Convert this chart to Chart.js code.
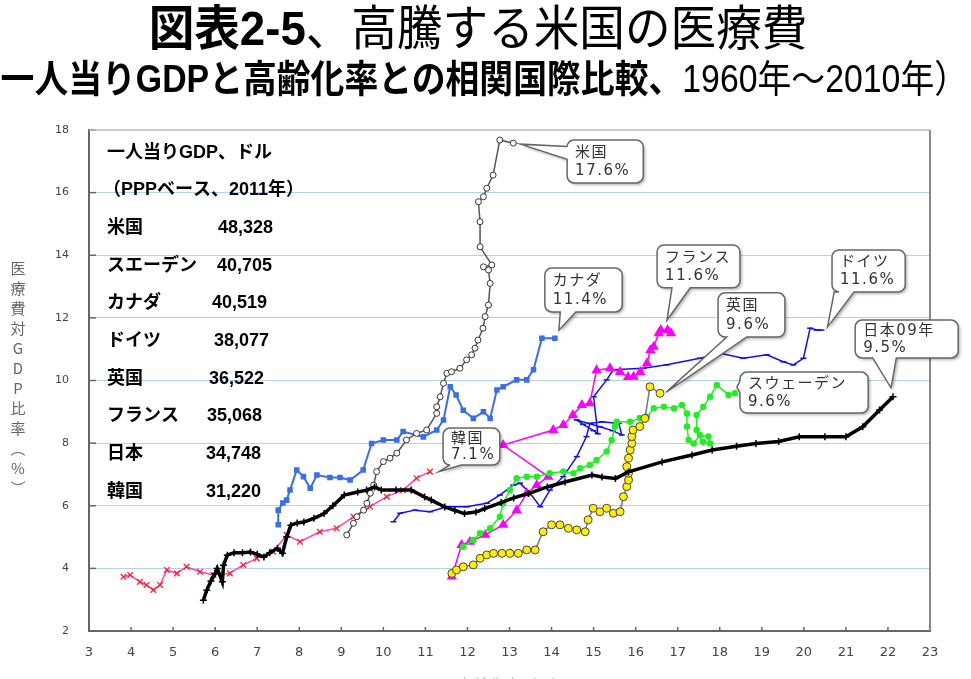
<!DOCTYPE html>
<html>
<head>
<meta charset="utf-8">
<script src="https://cdn.jsdelivr.net/npm/chart.js@4.4.1/dist/chart.umd.min.js"></script>
<style>
  html, body { margin: 0; padding: 0; background: #fff; }
  #wrap { position: relative; width: 971px; height: 679px; overflow: hidden; }
  #chart { position: absolute; left: 0; top: 0; }
  .t { position: absolute; white-space: nowrap; color: #000; font-family: "Liberation Sans", "Noto Sans CJK JP", sans-serif; z-index: 2; }
  #t1 { left: 478px; top: 0px; font-size: 48px; line-height: 58px; transform: translateX(-50%) scaleX(.95); }
  #t2 { right: 3px; top: 56px; font-size: 38px; line-height: 46px; transform-origin: right center; transform: scaleX(.89); }
  b { font-weight: 700; }
</style>
</head>
<body>
<div id="wrap">
  <div class="t" id="t1"><b>図表2-5</b>、高騰する米国の医療費</div>
  <div class="t" id="t2"><b>（一人当りGDPと高齢化率との相関国際比較、</b>1960年～2010年）</div>
  <canvas id="chart" width="971" height="679"></canvas>
</div>
<script>
// x = 高齢化率(%), y = 医療費対GDP比率(%), 1960-2010 yearly
const jpAging = [5.72, 5.8, 5.9, 6.0, 6.05, 6.17, 6.2, 6.29, 6.45, 6.65, 6.84, 7.0, 7.16, 7.3, 7.48, 7.6, 7.7, 7.8, 7.95, 8.11, 8.35, 8.59, 8.8, 9.07, 9.39, 9.6, 9.79, 9.95, 10.3, 10.66, 10.98, 11.14, 11.46, 11.7, 11.93, 12.2, 12.41, 12.8, 13.1, 13.45, 13.9, 14.32, 14.96, 15.2, 15.52, 15.83, 16.63, 17.34, 17.82, 18.4, 18.86, 19.4, 19.89, 20.5, 21.0, 21.4, 21.8, 22.12];
const jpSpend = [2.98, 3.3, 3.6, 3.84, 4.0, 3.57, 4.1, 4.42, 4.5, 4.5, 4.52, 4.45, 4.36, 4.5, 4.64, 4.48, 5.0, 5.38, 5.45, 5.48, 5.6, 5.75, 6.0, 6.34, 6.44, 6.5, 6.6, 6.5, 6.5, 6.5, 6.28, 6.18, 5.96, 5.85, 5.75, 5.8, 5.91, 6.1, 6.25, 6.39, 6.6, 6.76, 6.98, 6.92, 6.87, 7.08, 7.4, 7.62, 7.78, 7.9, 7.99, 8.05, 8.2, 8.2, 8.2, 8.52, 9.06, 9.48];

const usAging = [9.13, 9.29, 9.37, 9.53, 9.61, 9.69, 9.77, 9.84, 10.0, 10.16, 10.32, 10.55, 10.79, 11.03, 11.27, 11.27, 11.35, 11.43, 11.51, 11.62, 11.82, 11.98, 12.1, 12.18, 12.25, 12.37, 12.42, 12.5, 12.54, 12.5, 12.38, 12.58, 12.3, 12.3, 12.26, 12.38, 12.46, 12.61, 12.77, 13.09];
const usSpend = [5.07, 5.44, 5.65, 5.86, 6.08, 6.4, 6.66, 7.09, 7.41, 7.52, 7.68, 8.1, 8.31, 8.42, 8.95, 9.16, 9.48, 9.91, 10.23, 10.28, 10.39, 10.66, 10.82, 11.03, 11.29, 11.67, 12.04, 12.41, 13.1, 13.53, 13.63, 13.69, 14.27, 15.07, 15.71, 15.87, 16.14, 16.56, 17.68, 17.58];

const caAging = [7.5, 7.5, 7.61, 7.7, 7.78, 7.94, 8.1, 8.26, 8.42, 8.73, 8.97, 9.21, 9.52, 9.72, 10.0, 10.32, 10.47, 10.95, 11.27, 11.43, 11.59, 11.73, 11.9, 12.14, 12.38, 12.54, 12.7, 12.85, 13.17, 13.41, 13.57, 13.77, 14.08];
const caSpend = [5.39, 5.86, 6.09, 6.18, 6.5, 7.14, 6.93, 6.56, 6.98, 6.9, 6.9, 6.82, 7.14, 7.99, 8.1, 8.1, 8.37, 8.2, 8.42, 8.74, 9.8, 9.54, 9.05, 8.79, 9.0, 8.79, 9.7, 9.8, 10.02, 10.02, 10.34, 11.35, 11.35];

const krAging = [3.82, 3.98, 4.21, 4.37, 4.53, 4.69, 4.85, 5.09, 5.32, 5.64, 5.96, 6.35, 6.67, 6.99, 7.38, 7.7, 8.02, 8.49, 8.89, 9.29, 9.68, 10.08, 10.47, 10.79, 11.11];
const krSpend = [3.73, 3.79, 3.57, 3.47, 3.31, 3.47, 3.95, 3.84, 4.05, 3.89, 3.79, 3.84, 4.11, 4.32, 4.53, 5.07, 4.85, 5.17, 5.28, 5.65, 5.97, 6.29, 6.5, 6.88, 7.09];

const frAging = [11.63, 11.86, 12.06, 12.42, 12.85, 13.17, 13.41, 13.65, 13.92, 12.85, 14.04, 14.28, 14.51, 14.72, 14.91, 15.07, 15.39, 15.63, 15.82, 15.95, 16.11, 16.27, 16.35, 16.43, 16.55, 16.6, 16.76, 16.84];
const frSpend = [3.74, 4.75, 4.85, 5.07, 5.39, 5.86, 6.4, 6.66, 6.93, 7.94, 8.42, 8.58, 8.9, 9.22, 9.27, 10.33, 10.39, 10.27, 10.11, 10.12, 10.27, 10.55, 10.97, 11.08, 11.51, 11.61, 11.61, 11.51];

const deAging = [10.24, 10.4, 10.75, 11.11, 11.51, 11.98, 12.46, 12.77, 13.09, 13.25, 13.49, 13.73, 13.96, 14.28, 14.6, 14.83, 14.91, 15.2, 15.6, 15.67, 15.45, 15.15, 14.6, 14.75, 15.0, 15.1, 15.0, 15.31, 15.47, 16.18, 16.74, 17.53, 18.01, 18.56, 19.12, 19.51, 19.75, 19.99, 20.15, 20.31, 20.42];
const deSpend = [5.49, 5.76, 5.86, 5.81, 5.97, 5.97, 6.08, 6.34, 6.66, 6.72, 6.4, 5.97, 6.5, 6.93, 7.57, 8.21, 8.63, 8.68, 8.63, 8.26, 8.4, 8.52, 8.74, 8.6, 8.4, 8.3, 9.48, 10.02, 10.34, 10.39, 10.5, 10.71, 10.87, 10.71, 10.82, 10.6, 10.5, 10.71, 11.67, 11.61, 11.61];

const ukAging = [11.63, 11.74, 11.9, 12.14, 12.3, 12.46, 12.62, 12.82, 13.01, 13.21, 13.41, 13.61, 13.8, 14.0, 14.2, 14.4, 14.6, 14.8, 14.87, 14.99, 15.15, 15.31, 15.47, 15.63, 15.71, 15.79, 15.83, 15.83, 15.79, 15.83, 15.87, 15.91, 15.91, 15.94, 16.1, 16.22, 16.34, 16.58];
const ukSpend = [3.84, 3.95, 4.05, 4.11, 4.32, 4.43, 4.48, 4.48, 4.48, 4.48, 4.59, 4.59, 5.17, 5.39, 5.39, 5.28, 5.23, 5.17, 5.55, 5.92, 5.81, 5.92, 5.76, 5.81, 6.29, 6.61, 6.82, 7.04, 7.25, 7.52, 7.78, 7.99, 8.21, 8.42, 8.53, 8.79, 9.8, 9.59];

const seAging = [11.9, 12.14, 12.3, 12.54, 12.77, 12.85, 13.01, 13.17, 13.41, 13.65, 13.96, 14.28, 14.52, 14.68, 14.91, 15.07, 15.31, 15.43, 15.51, 15.55, 15.87, 16.1, 16.27, 16.43, 16.67, 16.91, 17.1, 17.22, 17.22, 17.26, 17.38, 17.53, 17.73, 17.77, 17.6, 17.45, 17.45, 17.61, 17.77, 17.93, 18.21, 18.36];
const seSpend = [4.69, 4.91, 5.12, 5.28, 5.65, 6.08, 6.5, 6.88, 6.93, 6.93, 7.04, 7.09, 7.04, 7.2, 7.3, 7.46, 7.73, 8.1, 8.53, 8.68, 8.68, 8.8, 8.84, 9.11, 9.16, 9.11, 9.22, 8.95, 8.53, 8.1, 7.99, 8.26, 8.21, 7.99, 8.04, 8.42, 8.9, 9.16, 9.48, 9.86, 9.54, 9.59];

const xTicks = [3, 4, 5, 6, 7, 8, 9, 10, 11, 12, 13, 14, 15, 16, 17, 18, 19, 20, 21, 22, 23];
const yTicks = [2, 4, 6, 8, 10, 12, 14, 16, 18];

// 一人当りGDP (PPP, 2011)
const gdpHeader = ['一人当りGDP、ドル', '（PPPベース、2011年）'];
const gdpCountries = ['米国', 'スエーデン', 'カナダ', 'ドイツ', '英国', 'フランス', '日本', '韓国'];
const gdpValues = ['48,328', '40,705', '40,519', '38,077', '36,522', '35,068', '34,748', '31,220'];
const gdpNumX = [218, 217, 212, 214, 209, 207, 206, 206];

const yTitle = ['医', '療', '費', '対', 'G', 'D', 'P', '比', '率', '︵', '%', '︶'];

function pts(xs, ys) {
  return xs.map((x, i) => ({ x: x, y: ys[i] }));
}

const series = {
  jp: pts(jpAging, jpSpend),
  us: pts(usAging, usSpend),
  ca: pts(caAging, caSpend),
  kr: pts(krAging, krSpend),
  fr: pts(frAging, frSpend),
  de: pts(deAging, deSpend),
  uk: pts(ukAging, ukSpend),
  se: pts(seAging, seSpend)
};

// speech bubbles: box in axis units [x1, yTop, x2, yBottom], tip = px offset from series' last point
const callouts = [
  { s: 'us', lines: ['米国', '17.6%'], box: [14.37, 17.68, 16.18, 16.31], side: 'left', base: [0.15, 0.45], tip: [7, 1] },
  { s: 'ca', lines: ['カナダ', '11.4%'], box: [13.84, 13.59, 15.68, 12.19], side: 'bottom', base: [0.2, 0.4], tip: [4, -8] },
  { s: 'fr', lines: ['フランス', '11.6%'], box: [16.51, 14.33, 18.48, 12.96], side: 'bottom', base: [0.18, 0.4], tip: [-4, -13] },
  { s: 'de', lines: ['ドイツ', '11.6%'], box: [20.67, 14.17, 22.41, 12.83], side: 'bottom', base: [0.03, 0.3], tip: [6, -3] },
  { s: 'uk', lines: ['英国', '9.6%'], box: [17.96, 12.8, 19.55, 11.39], side: 'bottom', base: [0.13, 0.43], tip: [6, -1] },
  { s: 'jp', lines: ['日本09年', '9.5%'], box: [21.22, 11.93, 23.67, 10.72], side: 'bottom', base: [0.17, 0.4], tip: [-2, -9] },
  { s: 'se', lines: ['スウェーデン', '9.6%'], box: [18.48, 10.27, 21.53, 8.96], side: 'left', base: [0.22, 0.5], tip: [2, -6] },
  { s: 'kr', lines: ['韓国', '7.1%'], box: [11.42, 8.48, 12.77, 7.3], side: 'bottom', base: [0.12, 0.32], tip: [9, 0] }
];

function drawCallout(ctx, chart, c) {
  const xs = chart.scales.x, ys = chart.scales.y;
  const l = xs.getPixelForValue(c.box[0]), t = ys.getPixelForValue(c.box[1]);
  const r = xs.getPixelForValue(c.box[2]), b = ys.getPixelForValue(c.box[3]);
  const last = series[c.s][series[c.s].length - 1];
  const tx = xs.getPixelForValue(last.x) + c.tip[0];
  const ty = ys.getPixelForValue(last.y) + c.tip[1];
  const rad = 7;
  ctx.save();
  ctx.beginPath();
  ctx.moveTo(l + rad, t);
  ctx.lineTo(r - rad, t);
  ctx.arcTo(r, t, r, t + rad, rad);
  ctx.lineTo(r, b - rad);
  ctx.arcTo(r, b, r - rad, b, rad);
  if (c.side === 'bottom') {
    const p1 = l + (r - l) * c.base[0], p2 = l + (r - l) * c.base[1];
    ctx.lineTo(p2, b);
    ctx.lineTo(tx, ty);
    ctx.lineTo(p1, b);
  }
  ctx.lineTo(l + rad, b);
  ctx.arcTo(l, b, l, b - rad, rad);
  if (c.side === 'left') {
    const p1 = t + (b - t) * c.base[0], p2 = t + (b - t) * c.base[1];
    ctx.lineTo(l, p2);
    ctx.lineTo(tx, ty);
    ctx.lineTo(l, p1);
  }
  ctx.lineTo(l, t + rad);
  ctx.arcTo(l, t, l + rad, t, rad);
  ctx.closePath();
  ctx.shadowColor = 'rgba(0,0,0,0.3)';
  ctx.shadowBlur = 3;
  ctx.shadowOffsetX = 2;
  ctx.shadowOffsetY = 2;
  ctx.fillStyle = '#fff';
  ctx.fill();
  ctx.shadowColor = 'transparent';
  ctx.strokeStyle = '#666';
  ctx.lineWidth = 1.5;
  ctx.stroke();
  ctx.fillStyle = '#333';
  ctx.font = '15px "DejaVu Sans", "Noto Sans CJK JP", sans-serif';
  ctx.letterSpacing = '1.5px';
  ctx.textBaseline = 'middle';
  ctx.textAlign = 'left';
  const h = b - t;
  ctx.fillText(c.lines[0], l + 8, t + h * 0.3);
  ctx.fillText(c.lines[1], l + 8, t + h * 0.73);
  ctx.restore();
}

const overlay = {
  id: 'overlay',
  beforeDatasetsDraw(chart) {
    const ctx = chart.ctx, a = chart.chartArea;
    const xs = chart.scales.x, ys = chart.scales.y;
    ctx.save();
    ctx.strokeStyle = '#666';
    ctx.lineWidth = 1.5;
    yTicks.forEach(v => {
      const y = ys.getPixelForValue(v);
      ctx.beginPath(); ctx.moveTo(a.left, y); ctx.lineTo(a.left + 7, y); ctx.stroke();
    });
    xTicks.forEach(v => {
      const x = xs.getPixelForValue(v);
      ctx.beginPath(); ctx.moveTo(x, a.bottom); ctx.lineTo(x, a.bottom - 4); ctx.stroke();
    });
    // top and right frame
    ctx.strokeStyle = '#bbb';
    ctx.lineWidth = 1.5;
    ctx.beginPath(); ctx.moveTo(a.left, a.top); ctx.lineTo(a.right, a.top); ctx.stroke();
    ctx.strokeStyle = '#888';
    ctx.lineWidth = 2;
    ctx.beginPath(); ctx.moveTo(a.right, a.top); ctx.lineTo(a.right, a.bottom); ctx.stroke();
    ctx.restore();
  },
  afterDatasetsDraw(chart) {
    const ctx = chart.ctx;
    callouts.forEach(c => drawCallout(ctx, chart, c));
  },
  afterDraw(chart) {
    const ctx = chart.ctx;
    ctx.save();
    // GDP table
    ctx.fillStyle = '#000';
    ctx.textBaseline = 'middle';
    ctx.textAlign = 'left';
    ctx.font = 'bold 18px "Liberation Sans", "Noto Sans CJK JP", sans-serif';
    ctx.fillText(gdpHeader[0], 107, 153);
    ctx.fillText(gdpHeader[1], 103, 190);
    gdpCountries.forEach((name, i) => {
      const y = 228 + i * 37.7;
      ctx.fillText(name, 107, y);
      ctx.fillText(gdpValues[i], gdpNumX[i], y);
    });
    // y axis title, vertical
    ctx.fillStyle = '#666';
    ctx.textAlign = 'center';
    ctx.font = '15px "Noto Sans CJK JP", sans-serif';
    yTitle.forEach((ch, i) => {
      ctx.fillText(ch, 18, 268 + i * 20);
    });
    // x axis title, only its top edge shows at the page bottom
    ctx.fillStyle = '#bbb';
    ctx.textBaseline = 'top';
    ctx.font = '16px "Noto Sans CJK JP", sans-serif';
    ctx.fillText('高齢化率（%）', 512, 677);
    ctx.restore();
  }
};

const ds = [
  { data: series.jp, showLine: true, borderColor: '#000', borderWidth: 3.5, pointStyle: 'cross', pointRadius: 3.5, pointBorderColor: '#000', pointBorderWidth: 1.5, pointBackgroundColor: '#000' },
  { data: series.us, showLine: true, borderColor: '#555', borderWidth: 1.5, pointStyle: 'circle', pointRadius: 3, pointBackgroundColor: '#fff', pointBorderColor: '#333', pointBorderWidth: 1 },
  { data: series.kr, showLine: true, borderColor: '#ff40c0', borderWidth: 1.5, pointStyle: 'crossRot', pointRadius: 4, pointBorderColor: '#ff2020', pointBorderWidth: 1.3 },
  { data: series.uk, showLine: true, borderColor: '#777', borderWidth: 1.5, pointStyle: 'circle', pointRadius: 4, pointBackgroundColor: '#ffee00', pointBorderColor: '#444', pointBorderWidth: 1 },
  { data: series.se, showLine: true, borderColor: '#22ee22', borderWidth: 1.5, pointStyle: 'circle', pointRadius: 2.5, pointBackgroundColor: '#22ee22', pointBorderColor: '#22ee22' },
  { data: series.fr, showLine: true, borderColor: '#ff00ff', borderWidth: 1.5, pointStyle: 'triangle', pointRadius: 4.5, pointBackgroundColor: '#ff00ff', pointBorderColor: '#ff00ff' },
  { data: series.de, showLine: true, borderColor: '#1010ee', borderWidth: 1.5, pointStyle: 'line', pointRadius: 3, pointBorderColor: '#1010ee', pointBorderWidth: 1.5 },
  { data: series.ca, showLine: true, borderColor: '#3a6ee8', borderWidth: 2, pointStyle: 'rect', pointRadius: 2.5, pointBackgroundColor: '#3a6ee8', pointBorderColor: '#3a6ee8' }
];

new Chart(document.getElementById('chart'), {
  type: 'scatter',
  data: { datasets: ds },
  options: {
    responsive: false,
    animation: false,
    layout: { padding: { left: 0, top: 130, right: 41, bottom: 0 } },
    plugins: { legend: { display: false }, tooltip: { enabled: false } },
    scales: {
      x: {
        type: 'linear', min: 3, max: 23,
        afterFit: s => { s.height = 48; },
        afterBuildTicks: s => { s.ticks = xTicks.map(v => ({ value: v })); },
        grid: { display: false, drawTicks: false },
        border: { color: '#666', width: 2 },
        ticks: { padding: 14, color: '#444', font: { family: 'DejaVu Sans', size: 13 } }
      },
      y: {
        type: 'linear', min: 2, max: 18,
        afterFit: s => { s.width = 89; },
        afterBuildTicks: s => { s.ticks = yTicks.map(v => ({ value: v })); },
        grid: { color: ctx => (ctx.tick && (ctx.tick.value === 2 || ctx.tick.value === 18)) ? 'rgba(0,0,0,0)' : '#b4d2f0', lineWidth: 1, drawTicks: false },
        border: { color: '#666', width: 2 },
        ticks: { padding: 20, color: '#444', font: { family: 'DejaVu Sans', size: 11 } }
      }
    }
  },
  plugins: [overlay]
});
</script>
</body>
</html>
